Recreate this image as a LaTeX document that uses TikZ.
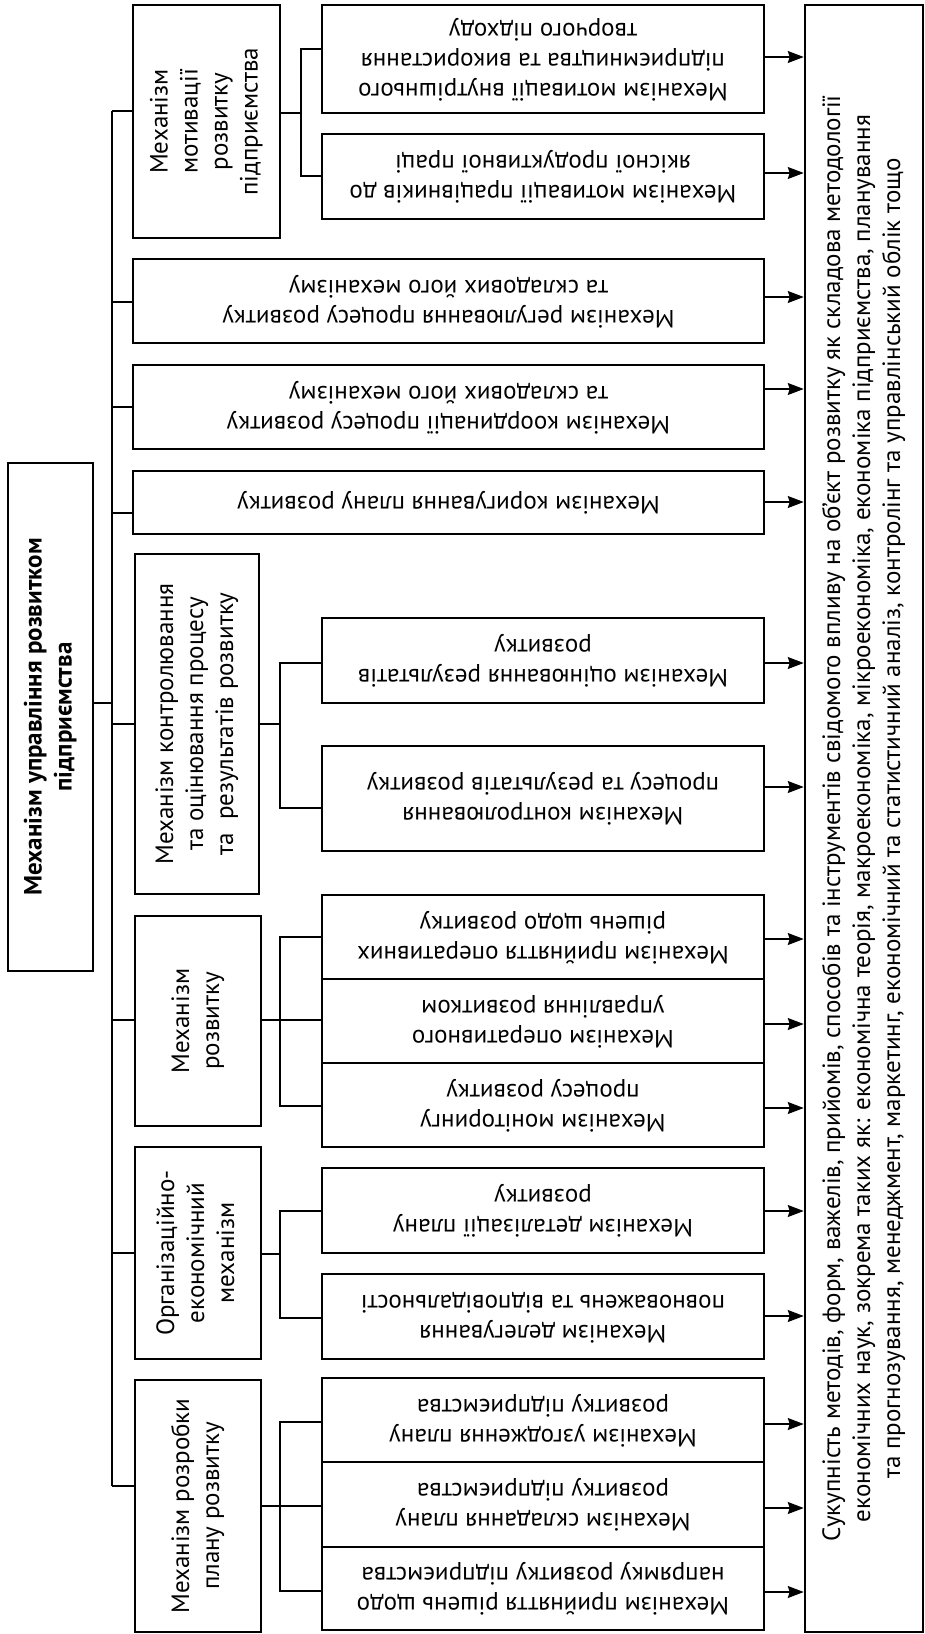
\documentclass[tikz,border=0pt]{standalone}
\usepackage{fontspec}
\setmainfont{PT Sans}
\usetikzlibrary{arrows.meta}
\newcommand\myfs{\fontsize{25}{30}\selectfont}
\newcommand\rtx[2]{\rotatebox{#1}{\begin{tabular}{@{}c@{}}#2\end{tabular}}}
\begin{document}
\begin{tikzpicture}[x=1pt,y=-1pt,
  box/.style={draw, line width=2.5pt, inner sep=0pt, font=\myfs},
  conn/.style={line width=1.3pt},
  arr/.style={line width=1.3pt, -{Stealth[length=16pt,width=12pt,inset=2pt]}}]
\useasboundingbox (0,0) rectangle (925,1634);
% main
\node[box, minimum width=85, minimum height=508] (M) at (50.5,717) {\rtx{90}{\bfseries Механізм управління розвитком\\\bfseries підприємства}};
% second column
\node[box, minimum width=147, minimum height=233] (Mot) at (206.5,121.5) {\rtx{90}{Механізм\\мотивації\\розвитку\\підприємства}};
\node[box, minimum width=631, minimum height=84] (Reg) at (448.5,301) {\rtx{180}{Механізм регулювання процесу розвитку\\та складових його механізму}};
\node[box, minimum width=631, minimum height=84] (Coo) at (448.5,407) {\rtx{180}{Механізм координації процесу розвитку\\та складових його механізму}};
\node[box, minimum width=631, minimum height=63] (Cor) at (448.5,502.5) {\rtx{180}{Механізм коригування плану розвитку}};
\node[box, minimum width=124, minimum height=340] (Con) at (197,724) {\rtx{90}{Механізм контролювання\\та оцінювання процесу\\та\ \ результатів розвитку}};
\node[box, minimum width=126, minimum height=210] (Dev) at (198,1021) {\rtx{90}{Механізм\\розвитку}};
\node[box, minimum width=126, minimum height=212] (Org) at (198,1253) {\rtx{90}{Організаційно-\\економічний\\механізм}};
\node[box, minimum width=126, minimum height=252] (Plan) at (198,1506) {\rtx{90}{Механізм розробки\\плану розвитку}};
% leaves
\node[box, minimum width=442, minimum height=108] (L1a) at (543,59) {\rtx{180}{Механізм мотивації внутрішнього\\підприємництва та використання\\творчого підходу}};
\node[box, minimum width=442, minimum height=85] (L1b) at (543,176.5) {\rtx{180}{Механізм мотивації працівників до\\якісної продуктивної праці}};
\node[box, minimum width=442, minimum height=85] (L5a) at (543,660.5) {\rtx{180}{Механізм оцінювання результатів\\розвитку}};
\node[box, minimum width=442, minimum height=105] (L5b) at (543,798.5) {\rtx{180}{Механізм контролювання\\процесу та результатів розвитку}};
\node[box, minimum width=442, minimum height=84] (L6a) at (543,937) {\rtx{180}{Механізм прийняття оперативних\\рішень щодо розвитку}};
\node[box, minimum width=442, minimum height=84] (L6b) at (543,1021) {\rtx{180}{Механізм оперативного\\управління розвитком}};
\node[box, minimum width=442, minimum height=84] (L6c) at (543,1105) {\rtx{180}{Механізм моніторингу\\процесу розвитку}};
\node[box, minimum width=442, minimum height=85] (L7a) at (543,1210.5) {\rtx{180}{Механізм деталізації плану\\розвитку}};
\node[box, minimum width=442, minimum height=85] (L7b) at (543,1316.5) {\rtx{180}{Механізм делегування\\повноважень та відповідальності}};
\node[box, minimum width=442, minimum height=84] (L8a) at (543,1420) {\rtx{180}{Механізм узгодження плану\\розвитку підприємства}};
\node[box, minimum width=442, minimum height=85] (L8b) at (543,1504.5) {\rtx{180}{Механізм складання плану\\розвитку підприємства}};
\node[box, minimum width=442, minimum height=83] (L8c) at (543,1588.5) {\rtx{180}{Механізм прийняття рішень щодо\\напрямку розвитку підприємства}};
% right box
\node[box, minimum width=118, minimum height=1627] (R) at (864,818.5) {\rtx{90}{Сукупність методів, форм, важелів, прийомів, способів та інструментів свідомого впливу на об’єкт розвитку як складова методології\\економічних наук, зокрема таких як: економічна теорія, макроекономіка, мікроекономіка, економіка підприємства, планування\\та прогнозування, менеджмент, маркетинг, економічний та статистичний аналіз, контролінг та управлінський облік тощо}};
% trunk
\coordinate (T1) at (112,111);
\coordinate (T8) at (112,1486);
\draw[conn] (T1) -- (T8);
\draw[conn] (M.east |- 0,703) -- (112,703);
\draw[conn] (T1) -- (Mot.west |- T1);
\draw[conn] (112,302) -- (Reg.west |- 0,302);
\draw[conn] (112,407) -- (Coo.west |- 0,407);
\draw[conn] (112,513) -- (Cor.west |- 0,513);
\draw[conn] (112,724) -- (Con.west |- 0,724);
\draw[conn] (112,1020) -- (Dev.west |- 0,1020);
\draw[conn] (112,1253) -- (Org.west |- 0,1253);
\draw[conn] (T8) -- (Plan.west |- T8);
% motivation sub
\draw[conn] (Mot.east |- 0,113) -- (301,113);
\draw[conn] (L1a.west |- 0,49) -| (301,176) -- (L1b.west |- 0,176);
% control sub
\draw[conn] (Con.east |- 0,724) -- (280,724);
\draw[conn] (L5a.west |- 0,663) -| (280,808) -- (L5b.west |- 0,808);
% development sub
\draw[conn] (Dev.east |- 0,1020) -- (L6b.west |- 0,1020);
\draw[conn] (L6a.west |- 0,937) -| (280,1106) -- (L6c.west |- 0,1106);
% org sub
\draw[conn] (Org.east |- 0,1254) -- (280,1254);
\draw[conn] (L7a.west |- 0,1211) -| (280,1318) -- (L7b.west |- 0,1318);
% plan sub
\draw[conn] (Plan.east |- 0,1506) -- (L8b.west |- 0,1506);
\draw[conn] (L8a.west |- 0,1422) -| (280,1591) -- (L8c.west |- 0,1591);
% arrows
\draw[arr] (L1a.east |- 0,57) -- (R.west |- 0,57);
\draw[arr] (L1b.east |- 0,173) -- (R.west |- 0,173);
\draw[arr] (Reg.east |- 0,297) -- (R.west |- 0,297);
\draw[arr] (Coo.east |- 0,389) -- (R.west |- 0,389);
\draw[arr] (Cor.east |- 0,502) -- (R.west |- 0,502);
\draw[arr] (L5a.east |- 0,663) -- (R.west |- 0,663);
\draw[arr] (L5b.east |- 0,787) -- (R.west |- 0,787);
\draw[arr] (L6a.east |- 0,939) -- (R.west |- 0,939);
\draw[arr] (L6b.east |- 0,1024) -- (R.west |- 0,1024);
\draw[arr] (L6c.east |- 0,1108) -- (R.west |- 0,1108);
\draw[arr] (L7a.east |- 0,1211) -- (R.west |- 0,1211);
\draw[arr] (L7b.east |- 0,1316) -- (R.west |- 0,1316);
\draw[arr] (L8a.east |- 0,1424) -- (R.west |- 0,1424);
\draw[arr] (L8b.east |- 0,1508) -- (R.west |- 0,1508);
\draw[arr] (L8c.east |- 0,1592) -- (R.west |- 0,1592);
\end{tikzpicture}
\end{document}
